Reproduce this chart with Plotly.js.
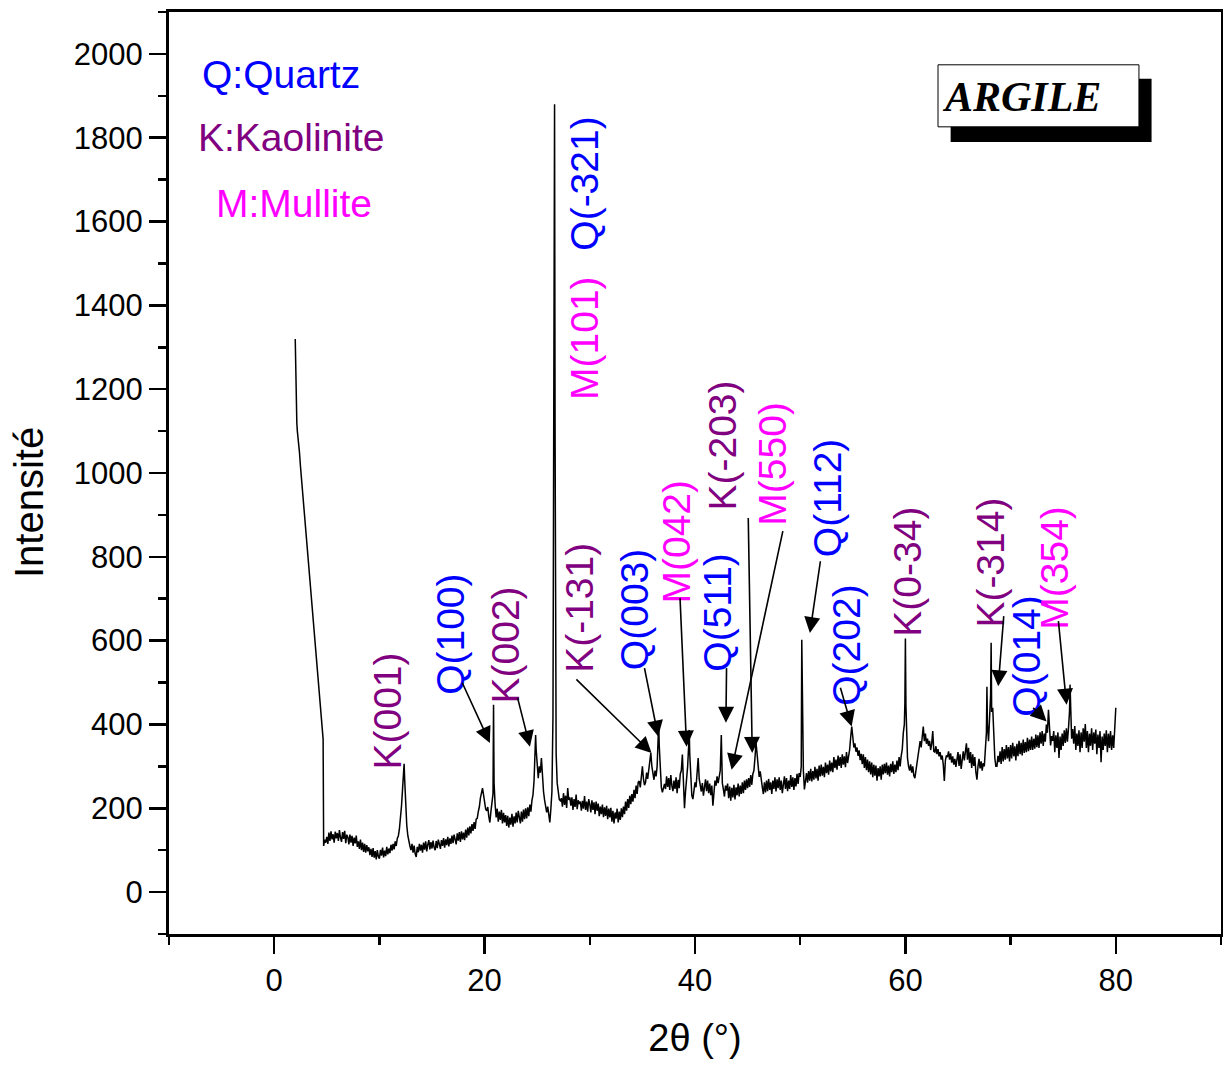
<!DOCTYPE html>
<html>
<head>
<meta charset="utf-8">
<script src="https://cdn.plot.ly/plotly-3.0.1.min.js"></script>
<style>html,body{margin:0;padding:0;background:#fff;}#chart{width:1223px;height:1070px;}</style>
</head>
<body>
<div id="chart"></div>
<script>
// 2θ (°) positions of the scan
const twoTheta = [
2.0,2.05,2.1,2.15,2.2,2.3,2.4,2.5,2.6,2.7,2.8,2.9,
3.0,3.1,3.2,3.3,3.4,3.5,3.6,3.7,3.8,3.9,
4.0,4.1,4.2,4.3,4.4,4.5,4.6,4.65,4.7,4.8,4.9,
5.0,5.1,5.2,5.3,5.4,5.5,5.6,5.7,5.8,5.9,
6.0,6.1,6.2,6.3,6.4,6.5,6.6,6.7,6.8,6.9,
7.0,7.1,7.2,7.3,7.4,7.5,7.6,7.7,7.8,7.9,
8.0,8.1,8.2,8.3,8.4,8.5,8.6,8.7,8.8,8.9,
9.0,9.1,9.2,9.3,9.4,9.5,9.6,9.7,9.8,9.9,
10.0,10.1,10.2,10.3,10.4,10.5,10.6,10.7,10.8,10.9,
11.0,11.1,11.2,11.3,11.4,11.5,11.6,11.7,11.8,11.9,
12.0,12.1,12.2,12.3,12.35,12.4,12.5,12.6,12.7,12.8,12.9,
13.0,13.1,13.2,13.3,13.4,13.5,13.6,13.7,13.8,13.9,
14.0,14.1,14.2,14.3,14.4,14.5,14.6,14.7,14.8,14.9,
15.0,15.1,15.2,15.3,15.4,15.5,15.6,15.7,15.8,15.9,
16.0,16.1,16.2,16.3,16.4,16.5,16.6,16.7,16.8,16.9,
17.0,17.1,17.2,17.3,17.4,17.5,17.6,17.7,17.8,17.9,
18.0,18.1,18.2,18.3,18.4,18.5,18.6,18.7,18.8,18.9,
19.0,19.1,19.2,19.3,19.4,19.5,19.6,19.7,19.8,19.9,
20.0,20.1,20.2,20.3,20.4,20.5,20.6,20.7,20.8,20.85,20.9,
21.0,21.1,21.2,21.3,21.4,21.5,21.6,21.7,21.8,21.9,
22.0,22.1,22.2,22.3,22.4,22.5,22.6,22.7,22.8,22.9,
23.0,23.1,23.2,23.3,23.4,23.5,23.6,23.7,23.8,23.9,
24.0,24.1,24.2,24.3,24.4,24.5,24.6,24.7,24.8,24.85,24.9,
25.0,25.1,25.2,25.3,25.4,25.5,25.6,25.7,25.8,25.9,
26.0,26.1,26.2,26.3,26.4,26.5,26.6,26.65,26.7,26.75,26.8,26.9,
27.0,27.1,27.2,27.3,27.4,27.5,27.6,27.7,27.8,27.9,
28.0,28.1,28.2,28.3,28.4,28.5,28.6,28.7,28.8,28.9,
29.0,29.1,29.2,29.3,29.4,29.5,29.6,29.7,29.8,29.9,
30.0,30.1,30.2,30.3,30.4,30.5,30.6,30.7,30.8,30.9,
31.0,31.1,31.2,31.3,31.4,31.5,31.6,31.7,31.8,31.9,
32.0,32.1,32.2,32.3,32.4,32.5,32.6,32.7,32.8,32.9,
33.0,33.1,33.2,33.3,33.4,33.5,33.6,33.7,33.8,33.9,
34.0,34.1,34.2,34.3,34.4,34.5,34.6,34.7,34.8,34.9,
35.0,35.1,35.2,35.3,35.4,35.5,35.6,35.7,35.8,35.9,
36.0,36.1,36.2,36.3,36.4,36.5,36.55,36.6,36.7,36.8,36.9,
37.0,37.1,37.2,37.3,37.4,37.5,37.6,37.7,37.8,37.9,
38.0,38.1,38.2,38.3,38.4,38.5,38.6,38.7,38.8,38.9,
39.0,39.1,39.2,39.3,39.4,39.45,39.5,39.6,39.7,39.8,39.9,
40.0,40.1,40.2,40.3,40.4,40.5,40.6,40.7,40.8,40.9,
41.0,41.1,41.2,41.3,41.4,41.5,41.6,41.7,41.8,41.9,
42.0,42.1,42.2,42.3,42.4,42.5,42.6,42.7,42.8,42.9,
43.0,43.1,43.2,43.3,43.4,43.5,43.6,43.7,43.8,43.9,
44.0,44.1,44.2,44.3,44.4,44.5,44.6,44.7,44.8,44.9,
45.0,45.1,45.2,45.3,45.4,45.5,45.6,45.7,45.8,45.9,
46.0,46.1,46.2,46.3,46.4,46.5,46.6,46.7,46.8,46.9,
47.0,47.1,47.2,47.3,47.4,47.5,47.6,47.7,47.8,47.9,
48.0,48.1,48.2,48.3,48.4,48.5,48.6,48.7,48.8,48.9,
49.0,49.1,49.2,49.3,49.4,49.5,49.6,49.7,49.8,49.9,
50.0,50.1,50.15,50.2,50.3,50.4,50.5,50.6,50.7,50.8,50.9,
51.0,51.1,51.2,51.3,51.4,51.5,51.6,51.7,51.8,51.9,
52.0,52.1,52.2,52.3,52.4,52.5,52.6,52.7,52.8,52.9,
53.0,53.1,53.2,53.3,53.4,53.5,53.6,53.7,53.8,53.9,
54.0,54.1,54.2,54.3,54.4,54.5,54.6,54.7,54.8,54.9,
55.0,55.1,55.2,55.3,55.4,55.5,55.6,55.7,55.8,55.9,
56.0,56.1,56.2,56.3,56.4,56.5,56.6,56.7,56.8,56.9,
57.0,57.1,57.2,57.3,57.4,57.5,57.6,57.7,57.8,57.9,
58.0,58.1,58.2,58.3,58.4,58.5,58.6,58.7,58.8,58.9,
59.0,59.1,59.2,59.3,59.4,59.5,59.6,59.7,59.8,59.9,59.95,
60.0,60.05,60.1,60.2,60.3,60.4,60.5,60.6,60.7,60.8,60.9,
61.0,61.1,61.2,61.3,61.4,61.5,61.6,61.7,61.8,61.9,
62.0,62.1,62.2,62.3,62.4,62.5,62.6,62.7,62.8,62.9,
63.0,63.1,63.2,63.3,63.4,63.5,63.6,63.7,63.8,63.9,
64.0,64.1,64.2,64.3,64.4,64.5,64.6,64.7,64.8,64.9,
65.0,65.1,65.2,65.3,65.4,65.5,65.6,65.7,65.8,65.9,
66.0,66.1,66.2,66.3,66.4,66.5,66.6,66.7,66.8,66.9,
67.0,67.1,67.2,67.3,67.4,67.5,67.6,67.7,67.75,67.8,67.9,
68.0,68.1,68.15,68.2,68.3,68.4,68.5,68.6,68.7,68.8,68.9,
69.0,69.1,69.2,69.3,69.4,69.5,69.6,69.7,69.8,69.9,
70.0,70.1,70.2,70.3,70.4,70.5,70.6,70.7,70.8,70.9,
71.0,71.1,71.2,71.3,71.4,71.5,71.6,71.7,71.8,71.9,
72.0,72.1,72.2,72.3,72.4,72.5,72.6,72.7,72.8,72.9,
73.0,73.1,73.2,73.3,73.4,73.5,73.6,73.7,73.8,73.9,
74.0,74.1,74.2,74.3,74.4,74.5,74.6,74.7,74.8,74.9,
75.0,75.1,75.2,75.3,75.4,75.5,75.6,75.65,75.7,75.8,75.9,
76.0,76.1,76.2,76.3,76.4,76.5,76.6,76.7,76.8,76.9,
77.0,77.1,77.2,77.3,77.4,77.5,77.6,77.7,77.8,77.9,
78.0,78.1,78.2,78.3,78.4,78.5,78.6,78.7,78.8,78.9,
79.0,79.1,79.2,79.3,79.4,79.5,79.6,79.7,79.8,79.9,
80.0
];

// Intensity values, one per 2θ position
const intensity = [
1320,1200,1230,1120,1100,1080,1050,1015,985,950,925,890,
860,835,800,770,740,705,675,640,610,585,
560,530,500,475,440,410,380,365,110,125,118,
132,115,142,122,145,126,138,118,144,128,
141,122,148,130,120,143,127,146,117,137,
131,114,137,118,134,110,130,116,135,108,
121,103,125,100,118,96,115,94,112,97,
107,88,103,84,105,82,98,78,100,85,
80,101,87,106,83,99,86,108,90,104,
93,113,99,115,102,121,110,128,134,150,
172,205,245,290,306,270,205,160,135,118,110,
100,115,94,111,91,84,108,95,115,99,
113,94,118,101,121,97,113,124,102,119,
104,123,107,100,122,105,125,109,103,124,
110,129,106,126,112,132,109,128,115,135,
117,137,121,114,140,123,143,120,145,126,
142,124,149,130,154,135,157,140,162,146,
167,151,174,176,192,203,224,236,248,232,
214,198,194,203,180,166,192,213,235,447,260,
209,178,199,168,192,172,196,164,189,166,
184,158,182,154,178,161,187,156,181,164,
190,166,194,171,164,192,168,197,174,200,
176,202,181,209,192,219,232,265,330,375,340,
290,272,300,285,320,275,240,220,205,190,
204,178,166,199,240,420,1300,1880,1100,560,330,260,
240,221,218,224,204,236,208,230,201,248,
220,226,206,226,196,222,203,233,198,219,
210,216,194,218,199,229,196,216,192,222,
209,190,219,196,214,186,216,194,211,181,
204,186,209,179,202,182,206,174,199,178,
201,168,194,164,190,175,199,166,192,172,
200,179,204,186,216,194,222,201,230,210,
234,216,244,224,254,234,262,265,250,275,
300,270,255,262,285,270,295,315,332,300,
280,268,290,276,300,360,404,350,280,250,238,
250,258,246,276,251,272,244,279,254,241,
266,246,274,236,268,248,282,290,328,250,
200,240,265,300,350,387,330,260,230,222,248,
262,250,285,320,270,255,240,260,230,250,
269,241,266,236,259,231,254,206,244,266,
254,276,260,282,290,375,260,245,228,254,
242,259,224,252,218,249,226,256,221,250,
231,259,228,254,234,262,236,266,244,269,
248,272,251,279,256,282,290,320,356,330,
300,275,288,262,250,234,262,238,266,241,
270,244,262,234,266,246,274,240,269,248,
274,244,266,236,262,276,246,272,241,266,
246,279,251,274,244,272,252,282,258,284,
275,300,602,410,290,245,266,284,261,289,266,
294,264,289,268,299,271,294,266,302,276,
304,278,299,274,309,284,304,280,314,288,
309,286,322,296,316,292,326,301,322,296,
329,304,324,298,334,308,325,340,370,395,
370,345,355,335,345,325,338,315,330,305,
329,296,322,291,316,286,312,281,309,274,
304,278,302,266,296,276,300,268,304,281,
306,284,309,280,302,276,306,286,312,282,
304,286,314,291,322,300,325,340,380,400,450,
605,445,370,320,300,290,305,285,300,278,272,
290,305,325,340,360,345,372,395,360,378,
354,366,349,361,339,354,384,336,334,348,
329,341,324,334,316,326,304,265,314,326,
322,336,316,331,309,324,304,318,299,314,
334,301,329,294,324,336,314,331,355,316,
344,308,334,296,329,301,322,286,268,300,
318,295,312,290,308,300,330,380,490,400,360,
420,470,595,430,440,350,320,300,300,325,310,
336,306,346,312,341,316,351,319,346,312,
351,319,356,324,348,314,354,324,361,329,
356,326,364,332,358,334,368,336,364,339,
371,339,366,342,376,346,374,344,381,354,
384,349,378,359,400,380,435,380,350,372,
361,384,334,374,344,381,320,371,339,378,
349,386,356,391,359,390,430,495,420,366,389,
354,396,339,378,349,386,334,381,344,391,
359,401,344,384,334,378,349,391,339,381,
354,388,329,376,344,384,310,371,339,378,
349,386,334,378,344,384,339,374,344,391,
440
];

// Peak labels and their phase
const peakLabels = ['K(001)','Q(100)','K(002)','M(101)','Q(-321)','K(-131)','Q(003)','M(042)','Q(511)','K(-203)','M(550)','Q(112)','Q(202)','K(0-34)','K(-314)','Q(014)','M(354)'];
const peakPhase  = ['K','Q','K','M','Q','K','Q','M','Q','K','M','Q','Q','K','K','Q','M'];

// Phase key
const phaseKeys  = ['Q','K','M'];
const phaseNames = ['Q:Quartz','K:Kaolinite','M:Mullite'];

const sampleName = 'ARGILE';

// ---- layout-only placement / styling ----
const phaseColor = {Q:'#0000FF', K:'#800080', M:'#FF00FF'};
const labelPos = [
  [10.81,433],[16.8,616],[22.0,590],[29.44,1322],[29.53,1690],[29.06,678],[34.25,674],
  [38.27,836],[42.18,669],[42.64,1065],[47.4,1022],[52.55,940],[54.44,590],[60.17,765],
  [68.13,786],[71.55,564],[74.22,774]
];
// arrows: [tailX, tailY, headX, headY]
const arrowSpec = [
  [17.81,503,20.5,356],[23.1,467,24.31,347],[28.58,511,35.87,332],[35.17,538,36.5,371],
  [38.57,705,39.2,347],[43.0,538,42.94,404],[45.06,896,45.44,332],[48.38,865,43.48,292],
  [51.94,793,50.92,618],[53.78,491,54.89,395],[69.36,662,68.82,491],[72.0,443,73.42,407],
  [74.53,650,75.32,447]
];
const keyPos = [[0.66,1952],[1.61,1800],[1.9,1642]];

const FONT = 'Liberation Sans, Arial, sans-serif';
const annotations = [];

peakLabels.forEach((t,i) => {
  annotations.push({
    x: labelPos[i][0], y: labelPos[i][1], xref:'x', yref:'y',
    text: t, showarrow:false, textangle:-90,
    xanchor:'center', yanchor:'middle',
    font:{family:FONT, size:39, color:phaseColor[peakPhase[i]]}
  });
});
arrowSpec.forEach(a => {
  annotations.push({
    x:a[2], y:a[3], ax:a[0], ay:a[1], xref:'x', yref:'y', axref:'x', ayref:'y',
    text:'', showarrow:true, arrowhead:2, arrowsize:2, arrowwidth:1.6,
    arrowcolor:'#000', standoff:0, startstandoff:0
  });
});
phaseKeys.forEach((k,i) => {
  annotations.push({
    x:keyPos[i][0], y:keyPos[i][1], xref:'x', yref:'y', text:phaseNames[i],
    showarrow:false, xanchor:'center', yanchor:'middle',
    font:{family:FONT, size:39, color:phaseColor[k]}
  });
});
annotations.push({
  x:63.3, y:1898, xref:'x', yref:'y', text:'<b><i>'+sampleName+'</i></b>',
  showarrow:false, xanchor:'left', yanchor:'middle',
  font:{family:'Liberation Serif, Times New Roman, serif', size:42, color:'#000'}
});
annotations.push({
  x:-0.133, y:0.4675, xref:'paper', yref:'paper', text:'Intensité',
  showarrow:false, textangle:-90, xanchor:'center', yanchor:'middle',
  font:{family:FONT, size:40, color:'#000'}
});

const shapes = [
  {type:'rect', xref:'x', yref:'y', x0:64.3, x1:83.4, y0:1790, y1:1941, fillcolor:'#000', line:{width:0}},
  {type:'rect', xref:'x', yref:'y', x0:63.1, x1:82.2, y0:1826, y1:1974, fillcolor:'#fff', line:{color:'#000', width:1}}
];

const trace = {
  x: twoTheta, y: intensity, type:'scatter', mode:'lines',
  line:{color:'#000', width:1.5}, hoverinfo:'skip', showlegend:false
};

const axisCommon = {
  showgrid:false, zeroline:false, showline:true, linewidth:3, linecolor:'#000',
  mirror:true, ticks:'outside', ticklen:17, tickwidth:2.5, tickcolor:'#000',
  tickfont:{family:FONT, size:31, color:'#000'}
};

const layout = {
  width:1223, height:1070,
  margin:{l:169, r:2, t:12, b:136},
  paper_bgcolor:'#fff', plot_bgcolor:'#fff',
  showlegend:false,
  xaxis: Object.assign({}, axisCommon, {
    range:[-10,90], tick0:0, dtick:20,
    minor:{tick0:0, dtick:10, ticks:'outside', ticklen:8, tickwidth:2.5, tickcolor:'#000'},
    title:{text:'2θ (°)', font:{family:FONT, size:38, color:'#000'}, standoff:28}
  }),
  yaxis: Object.assign({}, axisCommon, {
    range:[-100,2100], tick0:0, dtick:200,
    minor:{tick0:0, dtick:100, ticks:'outside', ticklen:8, tickwidth:2.5, tickcolor:'#000'},
    title:{text:''}
  }),
  annotations: annotations,
  shapes: shapes
};

Plotly.newPlot('chart', [trace], layout, {displayModeBar:false, staticPlot:true});
</script>
</body>
</html>
